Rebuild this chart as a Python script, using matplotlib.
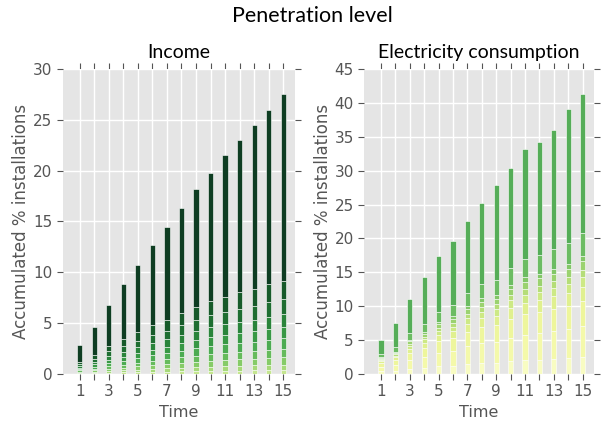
import matplotlib
matplotlib.use("Agg")
import matplotlib.pyplot as plt
import numpy as np

plt.style.use("ggplot")

# ── Data ──────────────────────────────────────────────────────────────────────
time = list(range(1, 16))

# Income: 10 stacked groups, bottom -> top
inc_g1 = [0.05, 0.07, 0.11, 0.14, 0.16, 0.19, 0.21, 0.24, 0.26, 0.29, 0.30, 0.32, 0.33, 0.35, 0.37]
inc_g2 = [0.07, 0.11, 0.17, 0.20, 0.24, 0.29, 0.32, 0.36, 0.40, 0.43, 0.46, 0.48, 0.50, 0.53, 0.55]
inc_g3 = [0.10, 0.15, 0.22, 0.27, 0.33, 0.38, 0.42, 0.48, 0.53, 0.57, 0.61, 0.64, 0.67, 0.70, 0.73]
inc_g4 = [0.11, 0.17, 0.25, 0.31, 0.37, 0.43, 0.48, 0.54, 0.59, 0.65, 0.68, 0.72, 0.75, 0.79, 0.82]
inc_g5 = [0.13, 0.21, 0.30, 0.37, 0.45, 0.52, 0.58, 0.66, 0.73, 0.79, 0.84, 0.88, 0.92, 0.97, 1.01]
inc_g6 = [0.14, 0.22, 0.33, 0.41, 0.49, 0.57, 0.64, 0.72, 0.79, 0.86, 0.91, 0.96, 1.00, 1.06, 1.10]
inc_g7 = [0.17, 0.26, 0.39, 0.48, 0.57, 0.67, 0.74, 0.84, 0.92, 1.01, 1.06, 1.12, 1.17, 1.23, 1.28]
inc_g8 = [0.19, 0.30, 0.44, 0.54, 0.65, 0.76, 0.85, 0.96, 1.06, 1.15, 1.22, 1.28, 1.33, 1.41, 1.46]
inc_g9 = [0.24, 0.37, 0.55, 0.68, 0.81, 0.95, 1.06, 1.19, 1.32, 1.44, 1.52, 1.61, 1.67, 1.76, 1.83]
inc_g10 = [1.60, 2.73, 4.05, 5.40, 6.68, 7.95, 9.15, 10.33, 11.55, 12.57, 13.90, 14.97, 16.17, 17.20, 18.35]

# Electricity consumption: 10 stacked groups, bottom -> top
ele_g1 = [0.36, 0.47, 0.72, 0.89, 1.10, 1.21, 1.43, 1.60, 1.66, 1.88, 2.03, 2.11, 2.21, 2.32, 2.49]
ele_g2 = [0.66, 0.86, 1.32, 1.63, 2.02, 2.22, 2.62, 2.93, 3.05, 3.45, 3.73, 3.87, 4.06, 4.25, 4.57]
ele_g3 = [0.54, 0.70, 1.08, 1.33, 1.66, 1.82, 2.14, 2.39, 2.49, 2.83, 3.05, 3.17, 3.32, 3.47, 3.74]
ele_g4 = [0.30, 0.39, 0.60, 0.74, 0.92, 1.01, 1.19, 1.33, 1.39, 1.57, 1.70, 1.76, 1.85, 1.93, 2.08]
ele_g5 = [0.21, 0.27, 0.42, 0.52, 0.64, 0.71, 0.83, 0.93, 0.97, 1.10, 1.19, 1.23, 1.29, 1.35, 1.45]
ele_g6 = [0.15, 0.20, 0.30, 0.37, 0.46, 0.51, 0.60, 0.67, 0.69, 0.79, 0.85, 0.88, 0.92, 0.97, 1.04]
ele_g7 = [0.18, 0.23, 0.36, 0.44, 0.55, 0.61, 0.71, 0.80, 0.83, 0.94, 1.02, 1.06, 1.11, 1.16, 1.25]
ele_g8 = [0.12, 0.16, 0.24, 0.30, 0.37, 0.40, 0.48, 0.53, 0.55, 0.63, 0.68, 0.70, 0.74, 0.77, 0.83]
ele_g9 = [0.48, 0.62, 0.96, 1.18, 1.47, 1.62, 1.90, 2.13, 2.22, 2.51, 2.71, 2.82, 2.95, 3.09, 3.32]
ele_g10 = [2.00, 3.55, 5.00, 6.85, 8.25, 9.50, 10.60, 11.90, 14.00, 14.65, 16.25, 16.65, 17.55, 19.85, 20.60]

income_groups = [inc_g1, inc_g2, inc_g3, inc_g4, inc_g5, inc_g6, inc_g7, inc_g8, inc_g9, inc_g10]
elec_groups = [ele_g1, ele_g2, ele_g3, ele_g4, ele_g5, ele_g6, ele_g7, ele_g8, ele_g9, ele_g10]

inc_colors = ["#c5e68f", "#a6d979", "#86cb68", "#66bb5c", "#4cab52",
              "#389845", "#2a843b", "#1f6e32", "#175a2a", "#0e3d22"]
ele_colors = ["#f8fcc2", "#f4f9aa", "#eef69c", "#e0f08f", "#cde985",
              "#b5dd78", "#9bd270", "#83c768", "#6cbc63", "#55ad58"]

# ── Figure ────────────────────────────────────────────────────────────────────
fig = plt.figure(figsize=(6.08, 4.21), dpi=100, facecolor="white")
ax1 = fig.add_axes([0.103, 0.112, 0.382, 0.724])
ax2 = fig.add_axes([0.599, 0.112, 0.378, 0.724])

fig.suptitle("Penetration level", x=0.513, y=0.985, fontsize=15.5,
             family=["Lato", "DejaVu Sans"])


def stacked(ax, groups, colors, ymax, title):
    bottom = np.zeros(len(time))
    for vals, col in zip(groups, colors):
        ax.bar(time, vals, width=0.36, bottom=bottom, color=col,
               edgecolor="white", linewidth=0.4)
        bottom += np.array(vals)
    ax.set_xlim(-0.17, 15.8)
    ax.set_ylim(0, ymax)
    ax.set_xticks(time)
    ax.set_xticklabels([str(t) if t % 2 == 1 else "" for t in time])
    ax.set_yticks(np.arange(0, ymax + 1, 5))
    ax.tick_params(axis="both", which="both", direction="out", length=4,
                   color="#555555", labelcolor="#555555", labelsize=11,
                   top=True, right=True)
    ax.set_xlabel("Time", fontsize=11.5, color="#555555", labelpad=4)
    ax.set_ylabel("Accumulated % installations", fontsize=12, color="#555555",
                  labelpad=2)
    ax.set_title(title, fontsize=14, color="black", pad=8,
                 family=["Lato", "DejaVu Sans"])
    ax.grid(True, color="white", linewidth=1)
    ax.set_axisbelow(True)
    for s in ax.spines.values():
        s.set_visible(False)


stacked(ax1, income_groups, inc_colors, 30, "Income")
stacked(ax2, elec_groups, ele_colors, 45, "Electricity consumption")

fig.savefig("out.png", dpi=100, facecolor="white")
